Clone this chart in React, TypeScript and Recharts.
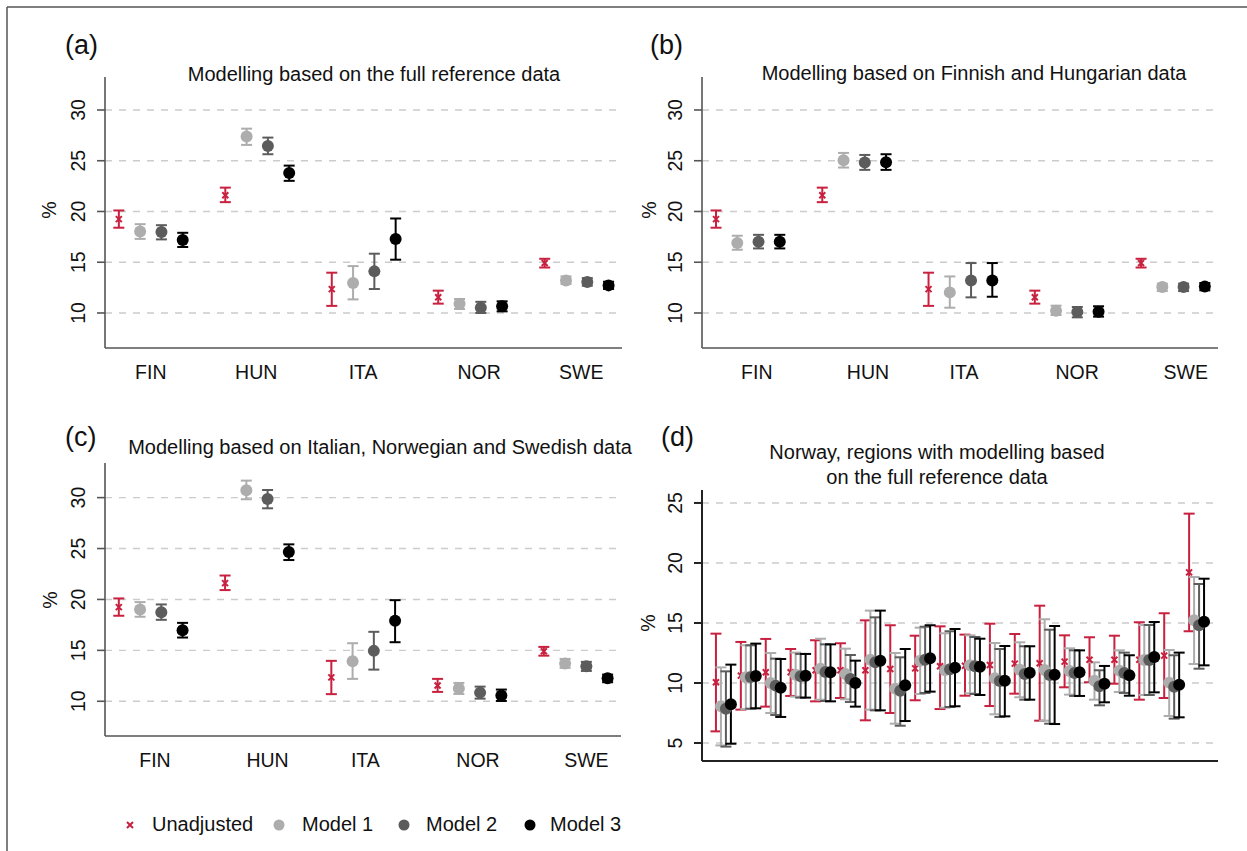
import React from 'react';
import { ComposedChart, Scatter, XAxis, YAxis, ReferenceLine, ErrorBar } from 'recharts';

const FONT = '"Liberation Sans", Arial, Helvetica, sans-serif';
const RED = '#C8203F';
const LIGHT = '#ADADAD';
const DARK = '#5C5C5C';
const BLACK = '#000000';

// ---------- categories & ticks ----------
const countries = ['FIN', 'HUN', 'ITA', 'NOR', 'SWE'];
const regions = [1, 2, 3, 4, 5, 6, 7, 8, 9, 10, 11, 12, 13, 14, 15, 16, 17, 18, 19, 20];
const yTicksCountry = [10, 15, 20, 25, 30];
const yTicksRegion = [5, 10, 15, 20, 25];
const labelPosA = [1.5, 6.45, 11.47, 16.92, 21.72];
const labelPosB = [1.92, 7.15, 11.67, 16.99, 22.1];
const labelPosC = [1.7, 7.0, 11.6, 16.9, 22.0];
const legendLabels = ['Unadjusted', 'Model 1', 'Model 2', 'Model 3'];

// ---------- unadjusted (same in a, b, c) ----------
const unadjEst = [19.25, 21.6, 12.35, 11.55, 14.92];
const unadjLo = [18.4, 20.92, 10.7, 10.92, 14.48];
const unadjHi = [20.1, 22.35, 13.97, 12.2, 15.34];

// ---------- panel (a) ----------
const aM1Est = [18.03, 27.38, 12.95, 10.92, 13.21];
const aM1Lo = [17.3, 26.56, 11.34, 10.39, 12.85];
const aM1Hi = [18.75, 28.16, 14.62, 11.38, 13.6];
const aM2Est = [17.97, 26.46, 14.1, 10.52, 13.05];
const aM2Lo = [17.25, 25.64, 12.36, 10.0, 12.69];
const aM2Hi = [18.65, 27.28, 15.84, 11.1, 13.44];
const aM3Est = [17.2, 23.8, 17.28, 10.66, 12.72];
const aM3Lo = [16.5, 23.02, 15.25, 10.16, 12.36];
const aM3Hi = [17.9, 24.52, 19.31, 11.15, 13.08];

// ---------- panel (b) ----------
const bM1Est = [16.89, 25.05, 12.03, 10.23, 12.56];
const bM1Lo = [16.23, 24.33, 10.52, 9.8, 12.16];
const bM1Hi = [17.61, 25.77, 13.6, 10.72, 12.89];
const bM2Est = [17.02, 24.82, 13.21, 10.1, 12.56];
const bM2Lo = [16.36, 24.1, 11.54, 9.57, 12.16];
const bM2Hi = [17.7, 25.57, 14.92, 10.59, 12.89];
const bM3Est = [17.02, 24.85, 13.21, 10.13, 12.62];
const bM3Lo = [16.36, 24.1, 11.6, 9.64, 12.23];
const bM3Hi = [17.7, 25.64, 14.92, 10.66, 12.95];

// ---------- panel (c) ----------
const cM1Est = [19.02, 30.72, 13.93, 11.25, 13.7];
const cM1Lo = [18.3, 29.84, 12.2, 10.72, 13.28];
const cM1Hi = [19.74, 31.67, 15.7, 11.8, 14.16];
const cM2Est = [18.75, 29.87, 14.95, 10.85, 13.44];
const cM2Lo = [18.0, 28.95, 13.11, 10.26, 12.98];
const cM2Hi = [19.51, 30.75, 16.82, 11.44, 13.87];
const cM3Est = [16.98, 24.66, 17.9, 10.56, 12.26];
const cM3Lo = [16.26, 23.87, 15.8, 10.03, 11.87];
const cM3Hi = [17.7, 25.41, 19.93, 11.15, 12.62];

// ---------- panel (d): Norway regions ----------
const dUnEst = [10.06, 10.61, 10.89, 10.89, 11.06, 11.06, 11.06, 11.17, 11.22, 11.39, 11.44, 11.5, 11.61, 11.64, 11.78, 11.94, 11.94, 11.94, 12.28, 19.22];
const dUnLo = [5.97, 7.78, 8.03, 8.92, 8.47, 8.75, 6.89, 7.5, 8.56, 7.83, 8.94, 8.08, 9.11, 6.86, 9.64, 10.06, 9.94, 8.61, 8.75, 14.31];
const dUnHi = [14.11, 13.42, 13.67, 12.83, 13.56, 13.31, 15.22, 14.81, 13.94, 14.72, 14.03, 14.94, 14.08, 16.44, 13.97, 13.81, 13.94, 15.06, 15.81, 24.11];
const dM1Est = [8.06, 10.47, 10.0, 10.69, 11.19, 10.75, 11.94, 9.53, 11.86, 11.06, 11.47, 10.39, 11.11, 11.08, 11.0, 10.19, 11.03, 11.92, 10.03, 15.22];
const dM1Lo = [4.8, 7.83, 7.5, 8.86, 8.61, 8.64, 7.78, 6.61, 9.08, 7.94, 9.14, 7.39, 8.81, 6.86, 9.03, 8.61, 9.25, 9.0, 7.25, 11.58];
const dM1Hi = [11.3, 13.14, 12.5, 12.53, 13.69, 12.86, 16.03, 12.5, 14.61, 14.14, 13.97, 13.33, 13.39, 15.31, 12.89, 11.72, 12.72, 14.83, 12.75, 18.83];
const dM2Est = [7.86, 10.5, 9.78, 10.56, 10.92, 10.33, 11.72, 9.36, 11.94, 11.14, 11.39, 10.17, 10.75, 10.67, 10.83, 9.72, 10.83, 11.92, 9.69, 14.81];
const dM2Lo = [4.7, 7.86, 7.33, 8.78, 8.5, 8.42, 7.72, 6.44, 9.17, 8.0, 9.08, 7.17, 8.61, 6.61, 8.92, 8.14, 9.17, 9.0, 7.03, 11.19];
const dM2Hi = [10.97, 13.14, 12.03, 12.42, 13.22, 12.33, 15.47, 12.14, 14.69, 14.31, 13.83, 12.83, 13.06, 14.44, 12.72, 11.06, 12.53, 14.83, 12.31, 18.25];
const dM3Est = [8.22, 10.58, 9.61, 10.61, 10.89, 10.0, 11.86, 9.81, 12.06, 11.28, 11.36, 10.19, 10.86, 10.69, 10.89, 9.94, 10.64, 12.17, 9.86, 15.11];
const dM3Lo = [4.94, 7.89, 7.17, 8.78, 8.47, 8.03, 7.72, 6.83, 9.28, 8.06, 9.0, 7.22, 8.61, 6.58, 8.92, 8.39, 8.94, 9.22, 7.14, 11.47];
const dM3Hi = [11.53, 13.28, 12.0, 12.42, 13.22, 11.86, 16.03, 12.83, 14.81, 14.5, 13.69, 13.08, 13.06, 14.75, 12.72, 11.42, 12.31, 15.08, 12.53, 18.69];

// ---------- helpers ----------
type Pt = { x: number; y: number; err: [number, number] };

function buildPoints(cats: any[], est: number[], lo: number[], hi: number[], slot: number): Pt[] {
  return cats.map((_, i) => ({
    x: i * 5 + slot,
    y: est[i],
    err: [est[i] - lo[i], hi[i] - est[i]],
  }));
}

type Series = { key: string; color: string; kind: 'cross' | 'circle'; data: Pt[] };

function makeSeries(cats: any[], sets: [number[], number[], number[]][]): Series[] {
  const colors = [RED, LIGHT, DARK, BLACK];
  return sets.map((s, k) => ({
    key: legendLabels[k],
    color: colors[k],
    kind: k === 0 ? 'cross' : 'circle',
    data: buildPoints(cats, s[0], s[1], s[2], k),
  }));
}

const seriesA = makeSeries(countries, [
  [unadjEst, unadjLo, unadjHi],
  [aM1Est, aM1Lo, aM1Hi],
  [aM2Est, aM2Lo, aM2Hi],
  [aM3Est, aM3Lo, aM3Hi],
]);
const seriesB = makeSeries(countries, [
  [unadjEst, unadjLo, unadjHi],
  [bM1Est, bM1Lo, bM1Hi],
  [bM2Est, bM2Lo, bM2Hi],
  [bM3Est, bM3Lo, bM3Hi],
]);
const seriesC = makeSeries(countries, [
  [unadjEst, unadjLo, unadjHi],
  [cM1Est, cM1Lo, cM1Hi],
  [cM2Est, cM2Lo, cM2Hi],
  [cM3Est, cM3Lo, cM3Hi],
]);
const seriesD = makeSeries(regions, [
  [dUnEst, dUnLo, dUnHi],
  [dM1Est, dM1Lo, dM1Hi],
  [dM2Est, dM2Lo, dM2Hi],
  [dM3Est, dM3Lo, dM3Hi],
]);

const crossShape = (color: string) => (p: any) => {
  const { cx, cy } = p;
  if (cx == null || cy == null) return <g />;
  const s = 3;
  return (
    <path
      d={`M${cx - s},${cy - s}L${cx + s},${cy + s}M${cx - s},${cy + s}L${cx + s},${cy - s}`}
      stroke={color}
      strokeWidth={2}
      fill="none"
    />
  );
};

const circleShape = (color: string) => (p: any) => {
  const { cx, cy } = p;
  if (cx == null || cy == null) return <g />;
  return <circle cx={cx} cy={cy} r={6} fill={color} />;
};

const YTick = (props: any) => {
  const { x, y, payload } = props;
  return (
    <text
      transform={`translate(${x - 12},${y}) rotate(-90)`}
      textAnchor="middle"
      fontSize={19.5}
      fontFamily={FONT}
      fill="#111"
    >
      {payload.value}
    </text>
  );
};

const makeXTick = (labels: string[]) => (props: any) => {
  const { x, y, index } = props;
  return (
    <text x={x} y={y + 31} textAnchor="middle" fontSize={19.5} fontFamily={FONT} fill="#111">
      {labels[index]}
    </text>
  );
};

type PanelProps = {
  left: number;
  top: number;
  margin: { top: number; right: number; bottom: number; left: number };
  xDomain: [number, number];
  xTicks: number[];
  xLabels: string[] | null;
  yDomain: [number, number];
  yTicks: number[];
  series: Series[];
  axisColor: string;
  axisWidth: number;
};

function Panel(p: PanelProps) {
  return (
    <div style={{ position: 'absolute', left: p.left, top: p.top, width: 640, height: 400 }}>
      <ComposedChart width={640} height={400} margin={p.margin}>
        <XAxis
          type="number"
          dataKey="x"
          domain={p.xDomain}
          allowDataOverflow={true}
          ticks={p.xTicks}
          interval={0}
          tickLine={false}
          tickSize={0}
          tickMargin={0}
          height={30}
          axisLine={{ stroke: p.axisColor, strokeWidth: p.axisWidth }}
          tick={p.xLabels ? makeXTick(p.xLabels) : false}
        />
        <YAxis
          type="number"
          dataKey="y"
          domain={p.yDomain}
          allowDataOverflow={true}
          ticks={p.yTicks}
          interval={0}
          width={60}
          tickSize={8}
          tickMargin={0}
          tickLine={{ stroke: p.axisColor, strokeWidth: p.axisWidth }}
          axisLine={{ stroke: p.axisColor, strokeWidth: p.axisWidth }}
          tick={YTick}
        />
        {p.yTicks.map((t) => (
          <ReferenceLine
            key={'g' + t}
            y={t}
            stroke="#cccccc"
            strokeDasharray="7 7"
            strokeWidth={1.4}
          />
        ))}
        {p.series.map((s) => (
          <Scatter
            key={s.key}
            name={s.key}
            data={s.data}
            dataKey="y"
            fill={s.color}
            isAnimationActive={false}
            shape={s.kind === 'cross' ? crossShape(s.color) : circleShape(s.color)}
          >
            <ErrorBar dataKey="err" direction="y" width={5.5} stroke={s.color} strokeWidth={2} />
          </Scatter>
        ))}
      </ComposedChart>
    </div>
  );
}

const textStyle = { fontFamily: FONT, fill: '#111' } as any;

export default function App() {
  return (
    <div
      style={{
        position: 'absolute',
        left: 0,
        top: 0,
        width: 1247,
        height: 851,
        background: '#ffffff',
        overflow: 'hidden',
      }}
    >
      <Panel
        left={0}
        top={0}
        margin={{ top: 77, right: 18, bottom: 22, left: 45 }}
        xDomain={[-0.65, 23.63]}
        xTicks={labelPosA}
        xLabels={countries}
        yDomain={[6.55, 33.25]}
        yTicks={yTicksCountry}
        series={seriesA}
        axisColor="#555555"
        axisWidth={1.6}
      />
      <Panel
        left={600}
        top={0}
        margin={{ top: 77, right: 22, bottom: 22, left: 42 }}
        xDomain={[-0.66, 23.62]}
        xTicks={labelPosB}
        xLabels={countries}
        yDomain={[6.55, 33.25]}
        yTicks={yTicksCountry}
        series={seriesB}
        axisColor="#555555"
        axisWidth={1.6}
      />
      <Panel
        left={0}
        top={400}
        margin={{ top: 63, right: 19, bottom: 34, left: 45 }}
        xDomain={[-0.65, 23.63]}
        xTicks={labelPosC}
        xLabels={countries}
        yDomain={[6.59, 33.4]}
        yTicks={yTicksCountry}
        series={seriesC}
        axisColor="#555555"
        axisWidth={1.6}
      />
      <Panel
        left={600}
        top={400}
        margin={{ top: 90, right: 22, bottom: 9, left: 42 }}
        xDomain={[-2.8, 100.8]}
        xTicks={[]}
        xLabels={null}
        yDomain={[3.5, 26.08]}
        yTicks={yTicksRegion}
        series={seriesD}
        axisColor="#222222"
        axisWidth={2}
      />
      <svg
        width={1247}
        height={851}
        style={{ position: 'absolute', left: 0, top: 0, pointerEvents: 'none' }}
      >
        <line x1={7} y1={7} x2={1247} y2={7} stroke="#555" strokeWidth={1.5} />
        <line x1={7} y1={7} x2={7} y2={851} stroke="#555" strokeWidth={1.5} />

        <text x={65} y={54} fontSize={27} style={textStyle}>(a)</text>
        <text x={650} y={54} fontSize={27} style={textStyle}>(b)</text>
        <text x={65} y={446} fontSize={27} style={textStyle}>(c)</text>
        <text x={661} y={446} fontSize={27} style={textStyle}>(d)</text>

        <text x={374} y={81} fontSize={20} textAnchor="middle" style={textStyle}>
          Modelling based on the full reference data
        </text>
        <text x={974} y={80} fontSize={20} textAnchor="middle" style={textStyle}>
          Modelling based on Finnish and Hungarian data
        </text>
        <text x={380} y={454} fontSize={20} textAnchor="middle" style={textStyle}>
          Modelling based on Italian, Norwegian and Swedish data
        </text>
        <text x={937} y={459} fontSize={20} textAnchor="middle" style={textStyle}>
          Norway, regions with modelling based
        </text>
        <text x={937} y={484} fontSize={20} textAnchor="middle" style={textStyle}>
          on the full reference data
        </text>

        <text transform="translate(56,210) rotate(-90)" fontSize={19.5} textAnchor="middle" style={textStyle}>%</text>
        <text transform="translate(656,210) rotate(-90)" fontSize={19.5} textAnchor="middle" style={textStyle}>%</text>
        <text transform="translate(57,600) rotate(-90)" fontSize={19.5} textAnchor="middle" style={textStyle}>%</text>
        <text transform="translate(655,623) rotate(-90)" fontSize={19.5} textAnchor="middle" style={textStyle}>%</text>

        <path d="M127,822L133,828M127,828L133,822" stroke={RED} strokeWidth={2} fill="none" />
        <text x={152} y={831} fontSize={20} style={textStyle}>{legendLabels[0]}</text>
        <circle cx={279} cy={825} r={5.5} fill={LIGHT} />
        <text x={302} y={831} fontSize={20} style={textStyle}>{legendLabels[1]}</text>
        <circle cx={404} cy={825} r={5.5} fill={DARK} />
        <text x={426} y={831} fontSize={20} style={textStyle}>{legendLabels[2]}</text>
        <circle cx={530} cy={825} r={5.5} fill={BLACK} />
        <text x={550} y={831} fontSize={20} style={textStyle}>{legendLabels[3]}</text>
      </svg>
    </div>
  );
}
